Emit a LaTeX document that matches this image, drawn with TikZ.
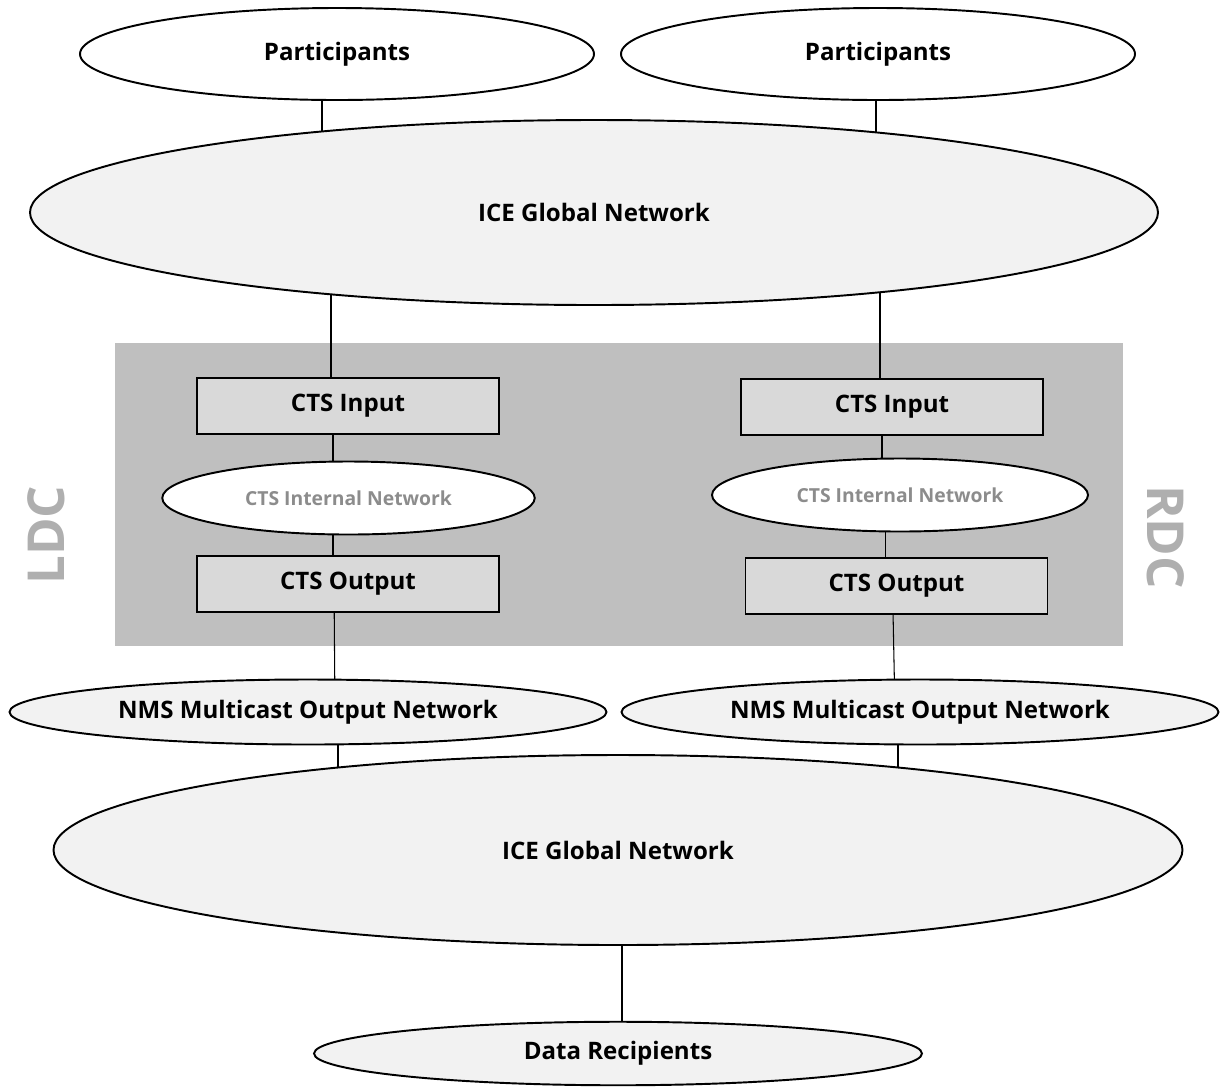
\documentclass[tikz,border=0pt]{standalone}
\usepackage{fontspec}
\setmainfont{Open Sans}
\usetikzlibrary{shapes.geometric}
\pgfdeclarelayer{bg}
\pgfdeclarelayer{links}
\pgfsetlayers{bg,links,main}
\definecolor{dcgray}{HTML}{BFBFBF}
\definecolor{boxgray}{HTML}{D9D9D9}
\definecolor{netgray}{HTML}{F2F2F2}
\definecolor{labgray}{HTML}{AFAFAF}
\definecolor{txtgray}{HTML}{8C8C8C}
\tikzset{
  net/.style={draw,ellipse,line width=1.1pt,inner sep=0pt,font=\fontsize{13.7}{15}\selectfont\bfseries},
  ctsbox/.style={draw,rectangle,fill=boxgray,line width=1.1pt,inner sep=0pt,minimum width=6.04cm,minimum height=1.13cm,font=\fontsize{13.7}{15}\selectfont\bfseries},
  inner/.style={net,fill=white,minimum width=7.45cm,minimum height=1.46cm,text=txtgray,font=\fontsize{11}{12}\selectfont\bfseries},
  site/.style={text=labgray,font=\fontsize{29}{30}\selectfont\bfseries},
  link/.style={line width=0.6pt}
}
\begin{document}
\begin{tikzpicture}
        \useasboundingbox (0,0) rectangle (24.42,-21.78);
        % outer networks
        \node[net,fill=white,minimum width=10.28cm,minimum height=1.84cm] (Par1) at (6.74,-1.08) {Participants};
        \node[net,fill=white,minimum width=10.28cm,minimum height=1.84cm] (Par2) at (17.56,-1.08) {Participants};
        \node[net,fill=netgray,minimum width=22.56cm,minimum height=3.70cm] (Ice1) at (11.88,-4.25) {ICE Global Network};
        % data centres
        \node[ctsbox] (In1) at (6.96,-8.12) {CTS Input};
        \node[ctsbox] (In2) at (17.84,-8.14) {CTS Input};
        \node[inner] (Int1) at (6.97,-9.96) {CTS Internal Network};
        \node[inner,minimum width=7.52cm] (Int2) at (18.00,-9.90) {CTS Internal Network};
        \node[ctsbox] (Out1) at (6.96,-11.68) {CTS Output};
        \node[ctsbox] (Out2) at (17.93,-11.72) {CTS Output};
        \node[site,rotate=90] (Ldc) at (0.92,-10.70) {LDC};
        \node[site,rotate=-90] (Rdc) at (23.32,-10.74) {RDC};
        % output side
        \node[net,fill=netgray,minimum width=11.94cm,minimum height=1.30cm] (Nms1) at (6.16,-14.24) {NMS Multicast Output Network};
        \node[net,fill=netgray,minimum width=11.94cm,minimum height=1.30cm] (Nms2) at (18.40,-14.24) {NMS Multicast Output Network};
        \node[net,fill=netgray,minimum width=22.58cm,minimum height=3.80cm] (Ice2) at (12.36,-17.00) {ICE Global Network};
        \node[net,fill=netgray,minimum width=12.16cm,minimum height=1.27cm] (Rec) at (12.36,-21.07) {Data Recipients};
        \begin{pgfonlayer}{bg}
          \fill[dcgray] (2.30,-6.86) rectangle (22.46,-12.92);
        \end{pgfonlayer}
        \begin{pgfonlayer}{links}
          \draw[link] ([xshift=-0.30cm]Par1.center) -- ([xshift=-0.30cm]Par1.center |- Ice1.center);
          \draw[link] ([xshift=-0.04cm]Par2.center) -- ([xshift=-0.04cm]Par2.center |- Ice1.center);
          \draw[link] ([xshift=-0.34cm]In1.center |- Ice1.center) -- ([xshift=-0.34cm]In1.center);
          \draw[link] ([xshift=-0.24cm]In2.center |- Ice1.center) -- ([xshift=-0.24cm]In2.center);
          \draw[link] ([xshift=-0.30cm]In1.center) -- ([xshift=-0.30cm]In1.center |- Out1.center);
          \draw[link] ([xshift=-0.20cm]In2.center) -- ([xshift=-0.20cm]In2.center |- Int2.center);
          \draw[link] ([xshift=-0.22cm]Out2.center |- Int2.center) -- ([xshift=-0.22cm]Out2.center);
          \draw[link] ([xshift=-0.28cm]Out1.center) -- ([xshift=0.54cm]Nms1.center);
          \draw[link] ([xshift=-0.08cm]Out2.center) -- ([xshift=-0.50cm]Nms2.center);
          \draw[link] ([xshift=0.60cm]Nms1.center) -- ([xshift=0.60cm]Nms1.center |- Ice2.center);
          \draw[link] ([xshift=-0.44cm]Nms2.center) -- ([xshift=-0.44cm]Nms2.center |- Ice2.center);
          \draw[link] ([xshift=0.08cm]Ice2.center) -- ([xshift=0.08cm]Ice2.center |- Rec.center);
        \end{pgfonlayer}
      \end{tikzpicture}
\end{document}
